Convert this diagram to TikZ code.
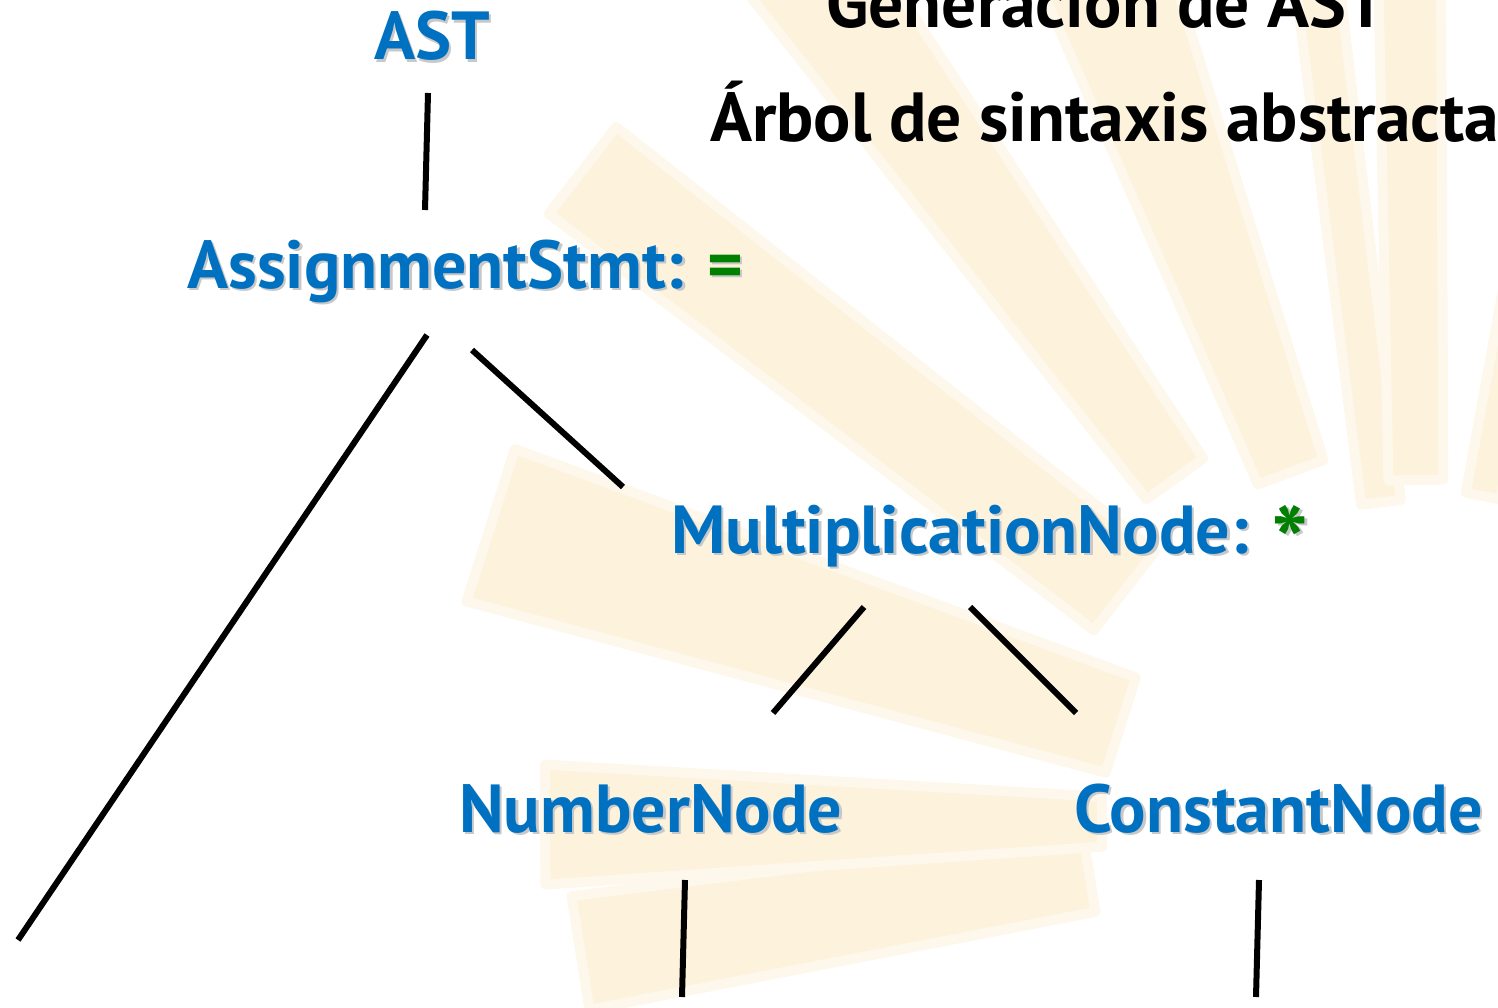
\documentclass[tikz,border=0pt]{standalone}
\usepackage{graphicx}
\usepackage{fontspec}
\setmainfont{PT Sans}
\usetikzlibrary{calc}

\definecolor{nodeblue}{RGB}{0,112,192}
\definecolor{opgreen}{RGB}{0,128,0}
\definecolor{shadowgray}{RGB}{200,200,200}
\definecolor{raycolor}{RGB}{253,242,220}
\definecolor{rayedge}{RGB}{254,248,236}

% text with a soft drop shadow underneath
\newcommand\shd[2][nodeblue]{%
  \makebox[0pt][l]{\hspace*{2.5pt}\raisebox{-2.5pt}{\color{shadowgray}#2}}{\color{#1}#2}}

\begin{document}
\begin{tikzpicture}[x=1pt, y=-1pt,
    astnode/.style={anchor=base west, inner sep=0pt,
      font=\fontsize{68}{80}\selectfont\bfseries},
    titletext/.style={anchor=base west, inner sep=0pt,
      font=\fontsize{69.5}{80}\selectfont\bfseries},
    edge/.style={line width=6pt, black},
    sunray/.style={fill=raycolor, draw=rayedge, line width=10pt, line join=round}]

  \useasboundingbox (0,0) rectangle (1498,1008);
  \clip (0,0) rectangle (1498,1008);

  % === Sunburst behind the tree ===
  \coordinate (sun) at (1420,820);
  \foreach \ang/\rin/\rout/\win/\wout in {
      189/335/850/80/115, 180.3/318/875/50/120, 162.4/314/975/100/160,
      142.2/374/1060/100/110, 125.7/420/1100/70/130, 110.4/371/1000/70/140,
      97/320/1000/40/45, 90.7/340/1000/55/65, 79/330/1000/35/50} {
    \filldraw[sunray]
      ($(sun)+(-\ang:\rin)+(-\ang+90:\win/2)$) --
      ($(sun)+(-\ang:\rout)+(-\ang+90:\wout/2)$) --
      ($(sun)+(-\ang:\rout)+(-\ang-90:\wout/2)$) --
      ($(sun)+(-\ang:\rin)+(-\ang-90:\win/2)$) -- cycle;
  }

  % === Titles ===
  \node[titletext] (gen) at (826,28) {Generación de AST};
  \node[titletext] (arb) at (710,142) {Árbol de sintaxis abstracta};

  % === Tree nodes ===
  \node[astnode] (ast) at (374,60) {\shd{AST}};
  \node[astnode] (asg) at (187,288) {\shd{AssignmentStmt:} \shd[opgreen]{=}};
  \node[astnode] (mul) at (671,553)
    {\shd{MultiplicationNode:} \shd[opgreen]{\raisebox{-24pt}{\scalebox{1.45}{*}}}};
  \node[astnode] (num) at (459,832) {\shd{NumberNode}};
  \node[astnode] (con) at (1074,832) {\shd{ConstantNode}};

  % connector ends
  \coordinate (ast-s) at (428,93);
  \coordinate (asg-n) at (425,210);
  \coordinate (asg-sw) at (427,335);
  \coordinate (asg-se) at (472,350);
  \coordinate (mul-n) at (623,487);
  \coordinate (mul-sw) at (864,607);
  \coordinate (mul-se) at (970,607);
  \coordinate (num-n) at (773,713);
  \coordinate (con-n) at (1076,713);
  \coordinate (num-s) at (685,880);
  \coordinate (con-s) at (1259,880);
  \coordinate (ident) at (18,940);
  \coordinate (num-leaf) at (682,997);
  \coordinate (con-leaf) at (1256,997);

  % === Edges ===
  \draw[edge] (ast-s) -- (asg-n);
  \draw[edge] (asg-sw) -- (ident);
  \draw[edge] (asg-se) -- (mul-n);
  \draw[edge] (mul-sw) -- (num-n);
  \draw[edge] (mul-se) -- (con-n);
  \draw[edge] (num-s) -- (num-leaf);
  \draw[edge] (con-s) -- (con-leaf);

\end{tikzpicture}
\end{document}
